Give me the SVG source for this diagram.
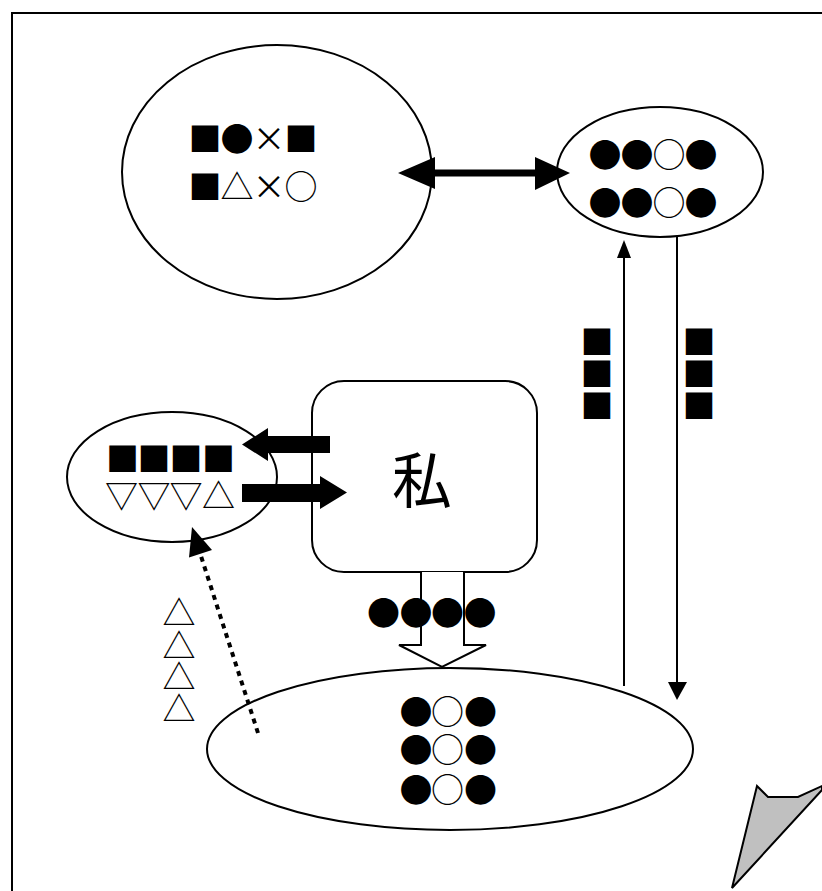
<svg xmlns="http://www.w3.org/2000/svg" width="822" height="891" viewBox="0 0 822 891">
  <style>
    .node { fill: #fff; stroke: #000; stroke-width: 2; }
    .sym { font-family: "Noto Sans CJK JP", "DejaVu Sans", sans-serif; font-size: 33px; text-anchor: middle; fill: #000; }
    .big { font-family: "Noto Sans CJK JP", sans-serif; font-size: 60px; text-anchor: middle; fill: #000; }
    .thin { stroke: #000; stroke-width: 2; fill: none; }
    .solid { fill: #000; stroke: none; }
  </style>

  <!-- page frame -->
  <rect x="12" y="13" width="840" height="900" fill="#fff" stroke="#000" stroke-width="2"/>

  <!-- upper left ellipse -->
  <g id="node-top-left">
    <ellipse class="node" cx="277" cy="172" rx="155" ry="127"/>
    <text class="sym" x="205 237 269 301 205 237 269 301" y="151 151 151 151 199 199 199 199">■●×■■△×○</text>
  </g>

  <!-- upper right ellipse -->
  <g id="node-top-right">
    <ellipse class="node" cx="660" cy="172" rx="103" ry="65"/>
    <text class="sym" x="605 637 669 701 605 637 669 701" y="167 167 167 167 214.5 214.5 214.5 214.5">●●○●●●○●</text>
  </g>

  <!-- small left ellipse -->
  <g id="node-left">
    <ellipse class="node" cx="172" cy="477" rx="105" ry="65"/>
    <text class="sym" x="122.5 154 186 218.5 121.5 154 186 218.5" y="471 471 471 471 508 508 508 508">■■■■▽▽▽△</text>
  </g>

  <!-- the self box -->
  <g id="node-self">
    <rect class="node" x="312" y="381" width="225" height="191" rx="32" ry="32"/>
    <text class="big" x="422" y="503">私</text>
  </g>

  <!-- bottom ellipse -->
  <g id="node-bottom">
    <ellipse class="node" cx="450" cy="749" rx="243" ry="81"/>
    <text class="sym" x="416 447.5 480.5 416 447.5 480.5 416 447.5 480.5" y="724 724 724 761.5 761.5 761.5 801.5 801.5 801.5">●○●●○●●○●</text>
  </g>

  <!-- connectors -->
  <g id="connectors">
    <!-- two-way arrow between the upper ellipses -->
    <rect class="solid" x="430" y="169.5" width="110" height="7"/>
    <polygon class="solid" points="398,173 435,157 435,189"/>
    <polygon class="solid" points="570,173 535,157 535,190"/>

    <!-- vertical arrows -->
    <line class="thin" x1="624" y1="686" x2="624" y2="255"/>
    <polygon class="solid" points="624,240 617,258 631,258"/>
    <line class="thin" x1="677" y1="237" x2="677" y2="684"/>
    <polygon class="solid" points="677,700 668,682 687,682"/>

    <!-- thick arrows between the small ellipse and the box -->
    <polygon class="solid" points="330,436 268,436 268,428 242,444.5 268,461 268,453 330,453"/>
    <polygon class="solid" points="242,484 320,484 320,476 347,492.5 320,509 320,502 242,502"/>

    <!-- hollow block arrow from the box down -->
    <path d="M421,572 V645 H399 L442,667 L486,645 H464 V572" fill="#fff" stroke="#000" stroke-width="2"/>

    <!-- dotted arrow -->
    <line x1="258" y1="733" x2="199" y2="550" stroke="#000" stroke-width="4" stroke-dasharray="5 5"/>
    <polygon class="solid" points="192,527 212,550 189,557.5"/>
  </g>

  <!-- labels beside the vertical arrows -->
  <g id="label-up">
    <text class="sym" x="597 597 597" y="353.5 385.5 417.5">■■■</text>
  </g>
  <g id="label-down">
    <text class="sym" x="699 699 699" y="353.5 385.5 417.5">■■■</text>
  </g>

  <!-- label on the block arrow -->
  <g id="label-block">
    <text class="sym" x="383.5 416 447.5 480" y="625">●●●●</text>
  </g>

  <!-- label beside the dotted arrow -->
  <g id="label-dotted">
    <text class="sym" x="179 179 179 179" y="625 657.5 689 721">△△△△</text>
  </g>

  <!-- grey pointer in the corner -->
  <polygon points="757,786 768,797 798,797 822,786 822,790 732,888" fill="#c0c0c0" stroke="#000" stroke-width="2"/>
</svg>
